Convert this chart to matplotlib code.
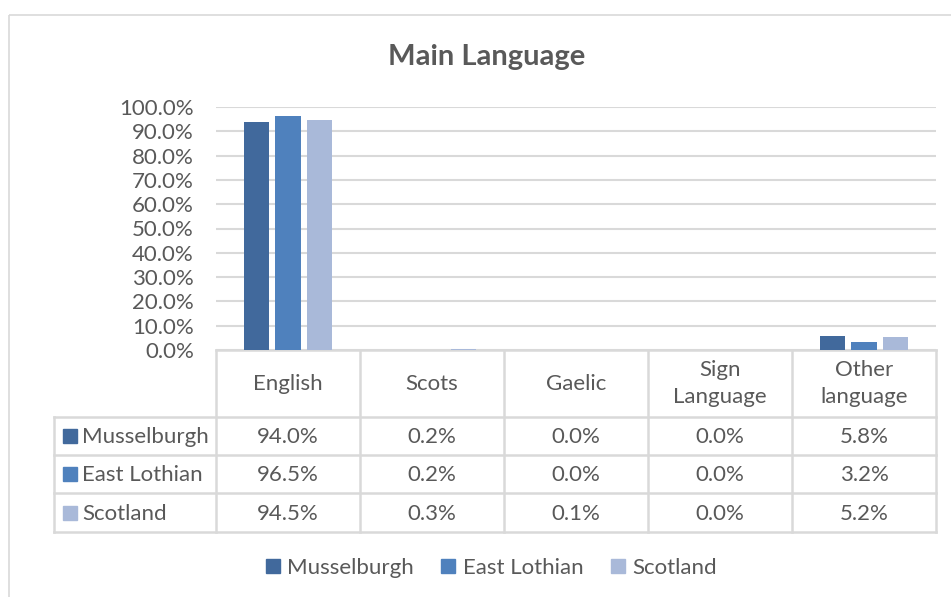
import numpy as np
import matplotlib.pyplot as plt
from matplotlib.patches import Rectangle
from matplotlib.lines import Line2D

plt.rcParams['font.family'] = ['Lato', 'DejaVu Sans']

categories = ['English', 'Scots', 'Gaelic', 'Sign\nLanguage', 'Other\nlanguage']
series = ['Musselburgh', 'East Lothian', 'Scotland']
musselburgh = [94.0, 0.2, 0.0, 0.0, 5.8]
east_lothian = [96.5, 0.2, 0.0, 0.0, 3.2]
scotland = [94.5, 0.3, 0.1, 0.0, 5.2]
colors = ['#41699C', '#4F81BD', '#A9B9D9']

values = [musselburgh, east_lothian, scotland]
txt = '#595959'
grid = '#D9D9D9'
fs = 16

W, H = 951, 597
fig = plt.figure(figsize=(W / 100, H / 100), dpi=100)


def px(x0, y0, x1, y1):
    # pixel box -> figure fraction [left, bottom, width, height]
    return [x0 / W, 1 - y1 / H, (x1 - x0) / W, (y1 - y0) / H]


# pixel overlay for border, table grid and texts
ov = fig.add_axes([0, 0, 1, 1])
ov.set_xlim(0, W)
ov.set_ylim(H, 0)
ov.axis('off')
ov.add_patch(Rectangle((9, 15), W, H, fill=False, ec=grid, lw=1.2))

# column chart
ax = fig.add_axes(px(216, 107, 936, 350))
x = np.arange(len(categories))
offs = [-0.222, 0, 0.222]
for vals, off, c, name in zip(values, offs, colors, series):
    ax.bar(x + off, np.array(vals) / 100, width=0.174, color=c, label=name, zorder=3)
ax.set_xlim(-0.5, len(categories) - 0.5)
ax.set_ylim(0, 1.0)
ax.set_yticks(np.arange(0, 1.01, 0.1))
ax.set_yticklabels(['{:.1f}%'.format(t * 100) for t in np.arange(0, 1.01, 0.1)])
ax.set_xticks([])
ax.tick_params(axis='y', length=0, pad=16, labelsize=fs, labelcolor=txt)
for s in ax.spines.values():
    s.set_visible(False)
ax.grid(axis='y', color=grid, lw=1.5, zorder=0)
ax.patch.set_alpha(0)

# data table
col_w = 144
col0 = 216
lab_x0 = 54
rows = [350, 417, 455, 493, 532]
right = col0 + col_w * len(categories)
lw = 1.8
ov.plot([col0, right], [rows[0], rows[0]], color=grid, lw=lw)
for r in rows[1:]:
    ov.plot([lab_x0, right], [r, r], color=grid, lw=lw)
for i in range(len(categories) + 1):
    xx = col0 + col_w * i
    ov.plot([xx, xx], [rows[0], rows[-1]], color=grid, lw=lw)
ov.plot([lab_x0, lab_x0], [rows[1], rows[-1]], color=grid, lw=lw)

for i, cat in enumerate(categories):
    cx = col0 + col_w * (i + 0.5)
    ov.text(cx, (rows[0] + rows[1]) / 2, cat, ha='center', va='center',
            fontsize=fs, color=txt, linespacing=1.45)
    for j, vals in enumerate(values):
        ov.text(cx, (rows[j + 1] + rows[j + 2]) / 2 + 1, '{:.1f}%'.format(vals[i]),
                ha='center', va='center', fontsize=fs, color=txt)

for j, (name, c) in enumerate(zip(series, colors)):
    cy = (rows[j + 1] + rows[j + 2]) / 2
    ov.add_patch(Rectangle((63, cy - 7), 14, 14, color=c))
    ov.text(82, cy + 1, name, ha='left', va='center', fontsize=fs, color=txt)

# title
fig.text(487 / W, 1 - 57 / H, 'Main Language', ha='center', va='center',
         fontsize=21, fontweight='bold', color=txt)

# legend
handles = [Line2D([], [], marker='s', ls='none', ms=10, color=c) for c in colors]
fig.legend(handles, series, loc='center', bbox_to_anchor=(491 / W, 1 - 568 / H),
           ncol=3, frameon=False, fontsize=fs, labelcolor=txt,
           handlelength=0.7, handletextpad=0.3, columnspacing=1.2)

fig.savefig('out.png', dpi=100)
